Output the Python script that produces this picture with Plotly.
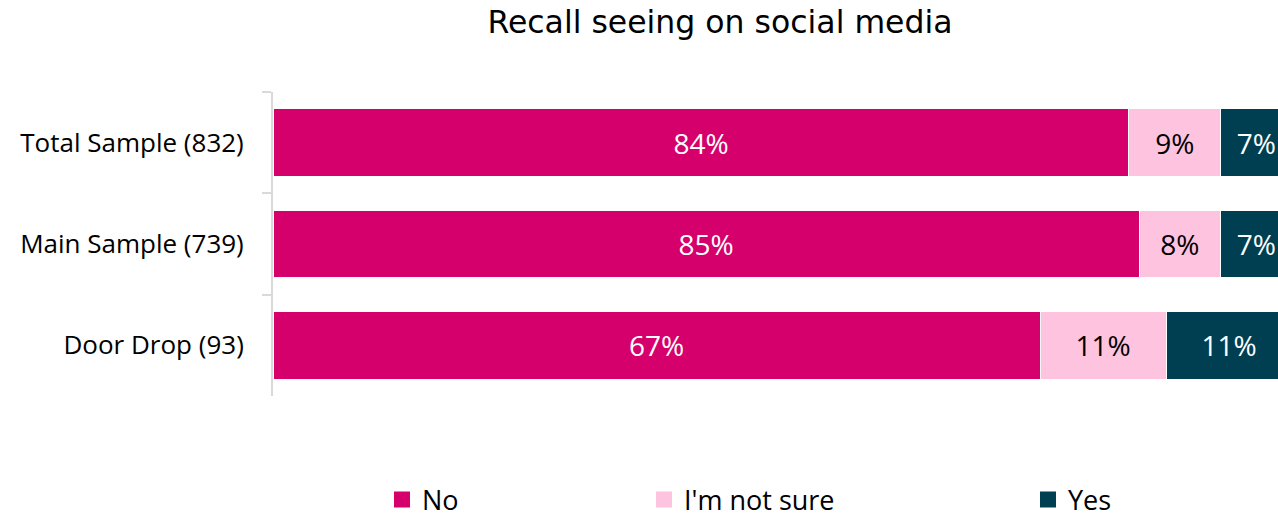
import plotly.graph_objects as go

categories = ["Total Sample (832)", "Main Sample (739)", "Door Drop (93)"]
series_names = ["No", "I'm not sure", "Yes"]
no_vals = [84, 85, 67]
notsure_vals = [9, 8, 11]
yes_vals = [7, 7, 11]

colors = ["#D6006D", "#FDC3DF", "#003F52"]
text_colors = ["white", "black", "white"]
values = [no_vals, notsure_vals, yes_vals]

label_font = "Open Sans"

fig = go.Figure()
for name, vals, col, tcol in zip(series_names, values, colors, text_colors):
    fig.add_trace(go.Bar(
        y=categories, x=vals, orientation="h", name=name,
        marker=dict(color=col, line=dict(color="white", width=1)),
        customdata=vals,
        texttemplate="%{customdata}%",
        textposition="inside", insidetextanchor="middle",
        textangle=0, constraintext="none",
        textfont=dict(color=tcol, size=28, family=label_font),
        showlegend=False, hoverinfo="skip",
    ))

legend_names = ["legend", "legend2", "legend3"]
legend_x = [382, 644, 1028]
for name, col, lg in zip(series_names, colors, legend_names):
    fig.add_trace(go.Scatter(
        x=[None], y=[None], mode="markers", name=name,
        marker=dict(symbol="square", size=16, color=col, line=dict(width=0)),
        legend=lg, showlegend=True,
    ))

legend_common = dict(
    orientation="h", xref="container", yref="container",
    yanchor="middle", xanchor="left", y=1 - 500 / 518,
    font=dict(size=27, family=label_font, color="black"),
    bgcolor="rgba(0,0,0,0)",
)

fig.update_layout(
    width=1278, height=518,
    barmode="stack", barnorm="percent", bargap=0.33,
    plot_bgcolor="white", paper_bgcolor="white",
    margin=dict(l=273, r=0, t=92, b=122),
    title=dict(
        text="Recall seeing on social media",
        font=dict(family="DejaVu Sans", size=31.5, color="black"),
        xref="container", yref="container",
        x=720 / 1278, xanchor="center", y=1 - 22 / 518, yanchor="middle",
    ),
    xaxis=dict(range=[0, 98.63], showticklabels=False, showgrid=False,
               zeroline=False, showline=False, fixedrange=True),
    yaxis=dict(autorange="reversed", showline=True, linecolor="#D9D9D9",
               linewidth=2, ticks="outside", tickson="boundaries",
               ticklen=9, tickcolor="#D9D9D9", tickwidth=2,
               tickfont=dict(size=26, family=label_font, color="black"),
               ticklabelstandoff=22, showgrid=False),
    legend=dict(x=legend_x[0] / 1278, **legend_common),
    legend2=dict(x=legend_x[1] / 1278, **legend_common),
    legend3=dict(x=legend_x[2] / 1278, **legend_common),
)

fig.write_html("out.html")
